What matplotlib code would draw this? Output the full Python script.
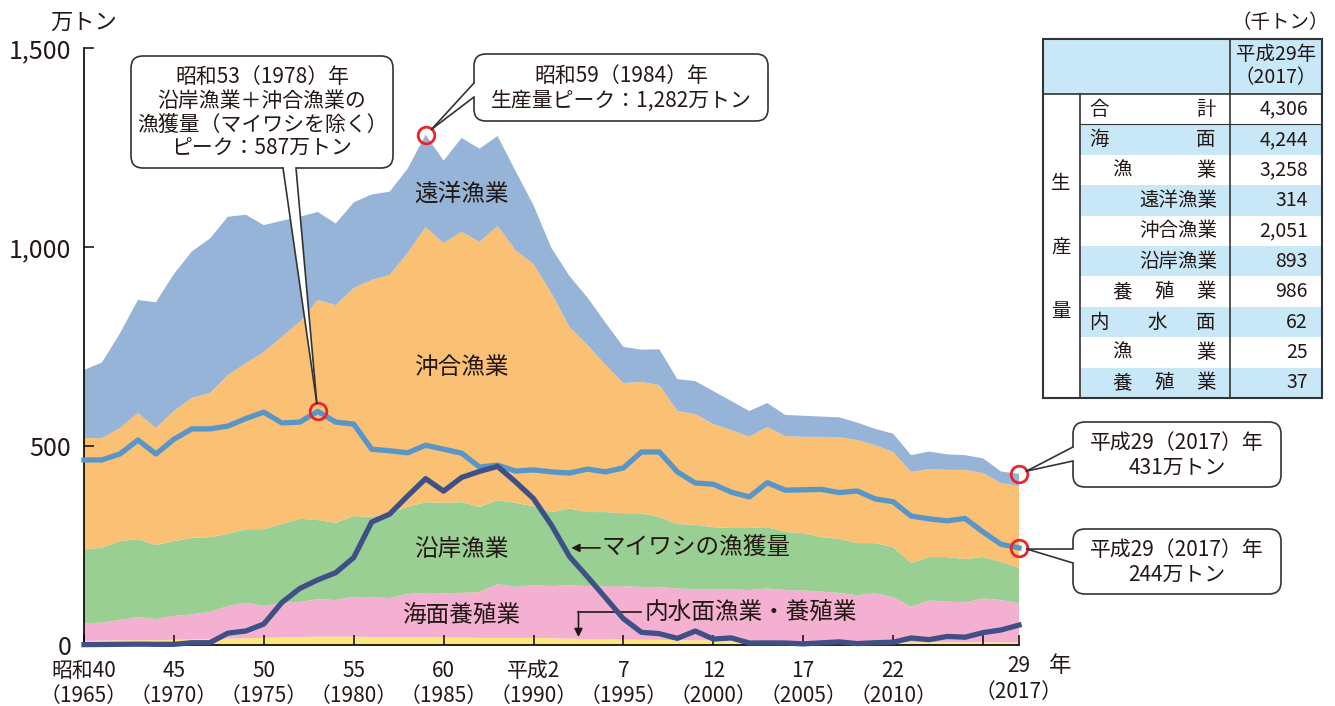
import numpy as np
import matplotlib.pyplot as plt
from matplotlib.patches import FancyBboxPatch, Polygon, Rectangle

plt.rcParams['font.family'] = ['Noto Sans CJK JP', 'DejaVu Sans']

# 万トン, 1965-2017
years = list(range(1965, 2018))
inland = [10, 11, 12, 12, 12, 13, 14, 15, 16, 17,
          18, 19, 20, 21, 21, 21, 20, 20, 20, 20,
          19, 19, 18, 18, 18, 18, 17, 16, 15, 14,
          14, 13, 13, 12, 12, 12, 11, 11, 10, 10,
          9, 9, 9, 8, 8, 8, 7, 7, 7, 7,
          7, 7, 6]
aquaculture = [45, 45, 51, 58, 53, 60, 63, 68, 82, 89,
               80, 87, 88, 94, 92, 100, 100, 98, 108, 111,
               111, 112, 115, 135, 128, 132, 131, 134, 133, 134,
               134, 133, 132, 130, 128, 128, 129, 127, 132, 128,
               128, 125, 122, 117, 122, 112, 89, 105, 102, 100,
               110, 106, 99]
coastal = [186, 188, 198, 196, 186, 188, 192, 188, 181, 185,
           193, 198, 209, 199, 194, 203, 202, 213, 219, 228,
           227, 228, 214, 211, 211, 199, 186, 193, 186, 186,
           183, 185, 177, 162, 162, 156, 154, 156, 154, 146,
           144, 137, 136, 131, 126, 126, 110, 109, 112, 109,
           104, 96, 89]
offshore = [279, 276, 284, 317, 294, 327, 352, 362, 399, 417,
            445, 470, 495, 553, 547, 573, 595, 599, 638, 691,
            653, 679, 666, 689, 635, 608, 550, 456, 420, 370,
            327, 330, 331, 284, 278, 259, 246, 229, 252, 241,
            242, 252, 255, 259, 246, 239, 229, 221, 219, 224,
            211, 198, 205]
distant = [171, 190, 238, 284, 316, 344, 368, 388, 398, 373,
           319, 292, 264, 221, 205, 215, 215, 209, 212, 232,
           207, 236, 234, 226, 199, 148, 113, 128, 119, 106,
           91, 81, 90, 80, 83, 83, 73, 65, 60, 53,
           53, 51, 50, 44, 41, 46, 42, 44, 39, 37,
           37, 29, 31]
# 沿岸+沖合 (マイワシを除く)
excl_sardine = [465, 465, 480, 515, 480, 517, 543, 543, 550, 569,
                585, 558, 560, 587, 560, 555, 492, 488, 483, 502,
                492, 482, 447, 452, 437, 440, 435, 432, 442, 435,
                445, 485, 485, 435, 407, 404, 384, 372, 408, 389,
                390, 391, 383, 387, 367, 360, 324, 317, 312, 318,
                284, 253, 244]
sardine = [0.9, 1.3, 1.7, 2.1, 1.7, 1.7, 5.7, 5.8, 29.7, 35.2,
           52.7, 106.6, 142.0, 163.7, 181.7, 219.8, 308.9, 329.0, 374.5, 417.9,
           386.6, 421.0, 436.2, 448.8, 409.9, 367.8, 301.0, 222.4, 171.4, 118.9,
           66.1, 31.9, 28.4, 16.7, 35.1, 15.0, 17.8, 5.0, 5.2, 5.0,
           2.8, 5.3, 7.9, 3.5, 5.7, 7.0, 17.6, 13.5, 21.5, 19.6,
           31.1, 37.8, 50.0]

tick_years = [1965, 1970, 1975, 1980, 1985, 1990, 1995, 2000, 2005, 2010, 2015, 2017]
tick_labels = ['昭和40\n（1965）', '45\n（1970）', '50\n（1975）', '55\n（1980）',
               '60\n（1985）', '平成2\n（1990）', '7\n（1995）', '12\n（2000）',
               '17\n（2005）', '22\n（2010）', '', '']
last_label = ['29', '（2017）']

table_values = ['4,306', '4,244', '3,258', '314', '2,051', '893', '986', '62', '25', '37']

c_distant = '#95B4D8'
c_offshore = '#FAC074'
c_coastal = '#99CF92'
c_aqua = '#F4B0D0'
c_inland = '#FDE67D'
c_line = '#5896C8'
c_sardine = '#3E5085'
c_red = '#E8262A'
c_tab = '#C8E8F8'
c_txt = '#231815'

W, H = 1335, 706
fig = plt.figure(figsize=(W / 100, H / 100), dpi=100)
ax = fig.add_axes([84 / W, 1 - 645 / H, (1019 - 84) / W, (645 - 48) / H])

ax.stackplot(years, inland, aquaculture, coastal, offshore, distant,
             colors=[c_inland, c_aqua, c_coastal, c_offshore, c_distant], linewidth=0)
ax.plot(years, excl_sardine, color=c_line, lw=3.8, clip_on=False, zorder=3)
ax.plot(years, sardine, color=c_sardine, lw=3.8, clip_on=False, zorder=4)

total = np.sum([inland, aquaculture, coastal, offshore, distant], axis=0)

ax.set_xlim(1965, 2017)
ax.set_ylim(0, 1500)
for s in ['top', 'right']:
    ax.spines[s].set_visible(False)
ax.spines['left'].set_linewidth(1.2)
ax.spines['bottom'].set_linewidth(1.2)
ax.set_yticks([0, 500, 1000, 1500], ['0', '500', '1,000', '1,500'])
ax.set_xticks(tick_years, tick_labels)
ax.tick_params(axis='y', direction='in', length=7, width=1.2, pad=9, labelsize=18, colors=c_txt)
ax.tick_params(axis='x', direction='in', length=7, width=1.2, pad=11, labelsize=15, colors=c_txt)
for t in ax.get_xticklabels():
    t.set_linespacing(1.15)

# red circles
pts = [(1978, excl_sardine[1978 - 1965]), (1984, total[1984 - 1965]),
       (2017, total[-1]), (2017, excl_sardine[-1])]
for x, y in pts:
    ax.plot(x, y, 'o', ms=12, mfc='none', mec=c_red, mew=2, clip_on=False, zorder=10)

# area labels
ax.text(1986, 1133, '遠洋漁業', ha='center', va='center', fontsize=17, color=c_txt)
ax.text(1986, 697, '沖合漁業', ha='center', va='center', fontsize=17, color=c_txt)
ax.text(1986, 241, '沿岸漁業', ha='center', va='center', fontsize=17, color=c_txt)
ax.text(1986, 75, '海面養殖業', ha='center', va='center', fontsize=17, color=c_txt)

ax.annotate('', xy=(1992.1, 244), xytext=(1993.7, 244),
            arrowprops=dict(arrowstyle='-|>', color=c_txt, lw=1.2, mutation_scale=12,
                            shrinkA=0, shrinkB=0))
ax.text(1993.8, 244, 'マイワシの漁獲量', ha='left', va='center', fontsize=17, color=c_txt)

ax.plot([1996.0, 1992.5], [83, 83], color=c_txt, lw=1.2)
ax.annotate('', xy=(1992.5, 20), xytext=(1992.5, 84),
            arrowprops=dict(arrowstyle='-|>', color=c_txt, lw=1.2, mutation_scale=12,
                            shrinkA=0, shrinkB=0))
ax.text(1996.2, 83, '内水面漁業・養殖業', ha='left', va='center', fontsize=17, color=c_txt)

fig.text(84 / W, 1 - 22 / H, '万トン', ha='center', va='center', fontsize=16, color=c_txt)

# overlay in pixel coordinates for callouts and table
ov = fig.add_axes([0, 0, 1, 1], zorder=5)
ov.set_xlim(0, W)
ov.set_ylim(H, 0)
ov.axis('off')
ov.patch.set_visible(False)


def to_px(x, y):
    return ov.transData.inverted().transform(ax.transData.transform((x, y)))


# last x label split so that 年 sits beside 29
xl = to_px(2017, 0)[0]
ov.text(xl, 666, last_label[0], ha='center', va='center', fontsize=15, color=c_txt)
ov.text(xl, 692, last_label[1], ha='center', va='center', fontsize=15, color=c_txt)
ov.text(1060, 666, '年', ha='center', va='center', fontsize=16, color=c_txt)


def callout(x0, y0, x1, y1, text, b1, b2, inward, pt):
    ov.add_patch(FancyBboxPatch((x0, y0), x1 - x0, y1 - y0,
                                boxstyle='round,pad=0,rounding_size=12',
                                fc='white', ec='#333333', lw=1.2, zorder=5))
    c = to_px(*pt)
    mid = np.array([(b1[0] + b2[0]) / 2, (b1[1] + b2[1]) / 2])
    d = mid - c
    tip = c + d / np.hypot(*d) * 8
    b1i = (b1[0] + inward[0] * 3, b1[1] + inward[1] * 3)
    b2i = (b2[0] + inward[0] * 3, b2[1] + inward[1] * 3)
    ov.add_patch(Polygon([b1i, b2i, b2, tip, b1], closed=True, fc='white', ec='none', zorder=6))
    ov.plot([b1[0], tip[0]], [b1[1], tip[1]], color='#333333', lw=1.2, zorder=7)
    ov.plot([b2[0], tip[0]], [b2[1], tip[1]], color='#333333', lw=1.2, zorder=7)
    ov.text((x0 + x1) / 2, (y0 + y1) / 2 + 1, text, ha='center', va='center',
            fontsize=15, linespacing=1.12, color=c_txt, zorder=8)


callout(131, 56, 393, 168,
        '昭和53（1978）年\n沿岸漁業＋沖合漁業の\n漁獲量（マイワシを除く）\nピーク：587万トン',
        (283, 168), (296, 168), (0, -1), pts[0])
callout(474, 54, 768, 121, '昭和59（1984）年\n生産量ピーク：1,282万トン',
        (474, 83), (474, 97), (1, 0), pts[1])
callout(1073, 422, 1281, 487, '平成29（2017）年\n431万トン',
        (1073, 447), (1073, 461), (1, 0), pts[2])
callout(1073, 529, 1281, 594, '平成29（2017）年\n244万トン',
        (1073, 549), (1073, 563), (1, 0), pts[3])

# table
tx0, tx1, tmid, tlab = 1043, 1322, 1230, 1080
ty0, thead, rh = 39, 94, 30.4
ty1 = thead + rh * 10
ov.add_patch(Rectangle((tx0, ty0), tx1 - tx0, thead - ty0, fc=c_tab, ec='none'))
for i in range(10):
    if i % 2 == 1:
        ov.add_patch(Rectangle((tlab, thead + i * rh), tx1 - tlab, rh, fc=c_tab, ec='none'))
ov.add_patch(Rectangle((tx0, ty0), tx1 - tx0, ty1 - ty0, fc='none', ec='#333333', lw=1.5))
ov.plot([tmid, tmid], [ty0, ty1], color='#333333', lw=1.2)
ov.plot([tlab, tlab], [thead, ty1], color='#333333', lw=1.2)
ov.plot([tx0, tx1], [thead, thead], color='#333333', lw=1.2)
ov.plot([tlab, tx1], [thead + rh, thead + rh], color='#333333', lw=0.8)

ov.text(1280, 22, '（千トン）', ha='center', va='center', fontsize=14, color=c_txt)
ov.text(1276, 66, '平成29年\n（2017）', ha='center', va='center', fontsize=14,
        linespacing=1.1, color=c_txt)
for ch, yy in zip('生産量', [183, 248, 311]):
    ov.text(1061, yy, ch, ha='center', va='center', fontsize=14, color=c_txt)

row_chars = [
    [('合', 1099), ('計', 1206)],
    [('海', 1099), ('面', 1206)],
    [('漁', 1122), ('業', 1206)],
    [('遠洋漁業', None)],
    [('沖合漁業', None)],
    [('沿岸漁業', None)],
    [('養', 1122), ('殖', 1164), ('業', 1206)],
    [('内', 1099), ('水', 1157), ('面', 1206)],
    [('漁', 1122), ('業', 1206)],
    [('養', 1122), ('殖', 1164), ('業', 1206)],
]
for i, (chars, val) in enumerate(zip(row_chars, table_values)):
    yy = thead + (i + 0.5) * rh
    for ch, xx in chars:
        if xx is None:
            ov.text(1217, yy, ch, ha='right', va='center', fontsize=14, color=c_txt)
        else:
            ov.text(xx, yy, ch, ha='center', va='center', fontsize=14, color=c_txt)
    ov.text(1308, yy, val, ha='right', va='center', fontsize=14, color=c_txt)

fig.savefig('out.png', dpi=100)
